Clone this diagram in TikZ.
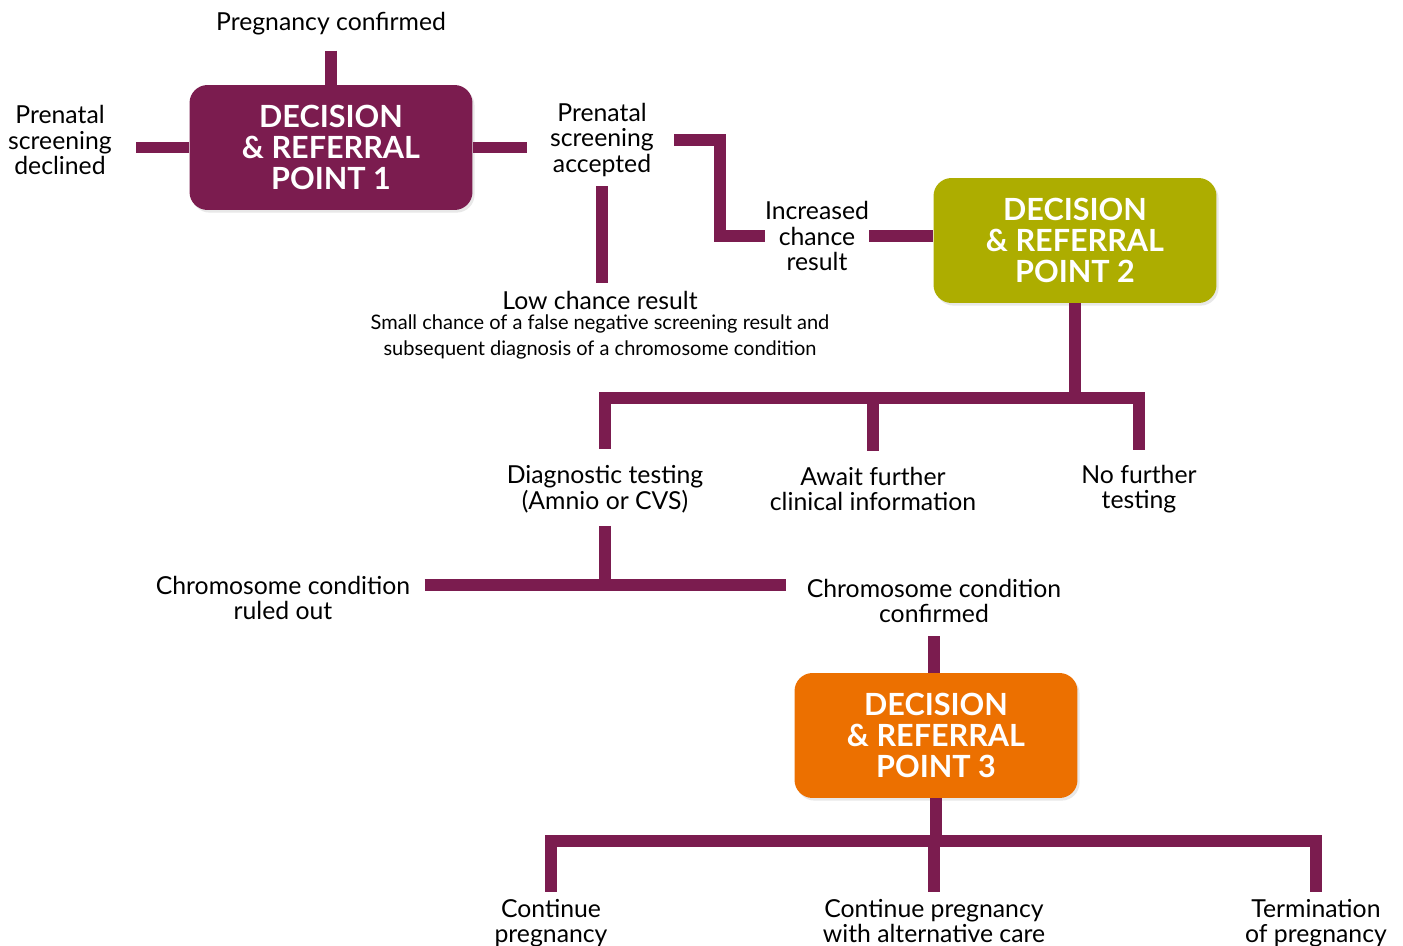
\documentclass[tikz,border=0pt]{standalone}
\usepackage{fontspec}
\setmainfont{Lato}
\usetikzlibrary{shadows,calc}
\definecolor{plum}{RGB}{123,28,79}
\definecolor{olive2}{RGB}{173,173,0}
\definecolor{orng}{RGB}{236,112,0}
\tikzset{
  dbox/.style={rounded corners=0.36cm, minimum width=5.66cm, minimum height=2.5cm,
    inner sep=0pt, align=center, text=white,
    font=\fontsize{17.4}{17.6}\selectfont\bfseries,
    drop shadow={opacity=0.18, shadow xshift=1.2pt, shadow yshift=-1.5pt}},
  txt/.style={inner sep=0pt, align=center, font=\fontsize{14.1}{14.5}\selectfont},
  small/.style={inner sep=0pt, align=center, font=\fontsize{11.4}{14.7}\selectfont},
  conn/.style={draw=plum, line width=0.24cm, line join=miter}
}
\begin{document}
\begin{tikzpicture}[x=0.02cm,y=-0.02cm]
\useasboundingbox (0,0) rectangle (1403,946);
% decision boxes
\node[dbox, fill=plum]   (b1) at (331,147.5) {DECISION\\\& REFERRAL\\POINT 1};
\node[dbox, fill=olive2] (b2) at (1075,240.5) {DECISION\\\& REFERRAL\\POINT 2};
\node[dbox, fill=orng]   (b3) at (936,735.5) {DECISION\\\& REFERRAL\\POINT 3};
% text nodes
\node[txt] (pc)  at (331,24)  {Pregnancy confirmed};
\node[txt] (psd) at (60,140)  {Prenatal\\screening\\declined};
\node[txt] (psa) at (602,140) {Prenatal\\screening\\accepted};
\node[txt] (icr) at (817,236) {Increased\\chance\\result};
\node[txt] (lcr) at (600,300) {Low chance result};
\node[small] (lcn) at (600,337) {Small chance of a false negative screening result and\\subsequent diagnosis of a chromosome condition};
\node[txt] (dt)  at (605,489) {Diagnostic testing\\(Amnio or CVS)};
\node[txt] (af)  at (873,489) {Await further\\clinical information};
\node[txt] (nf)  at (1139,489) {No further\\testing};
\node[txt] (cro) at (283,598) {Chromosome condition\\ruled out};
\node[txt] (crc) at (934,601) {Chromosome condition\\confirmed};
\node[txt] (cp)  at (551,923) {Continue\\pregnancy};
\node[txt] (cpa) at (934,921) {Continue pregnancy\\with alternative care};
\node[txt] (tp)  at (1316,923) {Termination\\of pregnancy};
% connectors
\draw[conn, shorten <=0.3cm] (pc.south) -- (b1.north);
\draw[conn, shorten >=0.48cm] (b1.west) -- (b1.west -| psd.east);
\draw[conn, shorten >=0.46cm] (b1.east) -- (b1.east -| psa.west);
\draw[conn, shorten <=0.4cm] (psa.east) -- ++(66,0) |- (icr.west);
\draw[conn] (icr.east) -- (icr.east -| b2.west);
\draw[conn, shorten <=0.18cm, shorten >=0.14cm] (psa.south) -- (psa.south |- lcr.north);
\coordinate (bar2) at (1075,398);
\draw[conn, shorten >=0.32cm] (b2.south) -- (bar2) -| (dt.north);
\draw[conn, shorten >=0.32cm] (bar2) -| (af.north);
\draw[conn, shorten >=0.3cm] (bar2) -| (nf.north);
\coordinate (j1) at (605,585);
\draw[conn, shorten <=0.26cm] (dt.south) -- (j1);
\draw[conn, shorten <=0.28cm, shorten >=0.4cm] (cro.east |- j1) -- (crc.west |- j1);
\draw[conn, shorten <=0.26cm] (crc.south) -- (crc.south |- b3.north);
\coordinate (bar3) at (936,841);
\draw[conn, shorten >=0.14cm] (b3.south) -- (bar3) -| (cp.north);
\draw[conn, shorten >=0.14cm] (bar3) -| (cpa.north);
\draw[conn, shorten >=0.14cm] (bar3) -| (tp.north);
\end{tikzpicture}
\end{document}
